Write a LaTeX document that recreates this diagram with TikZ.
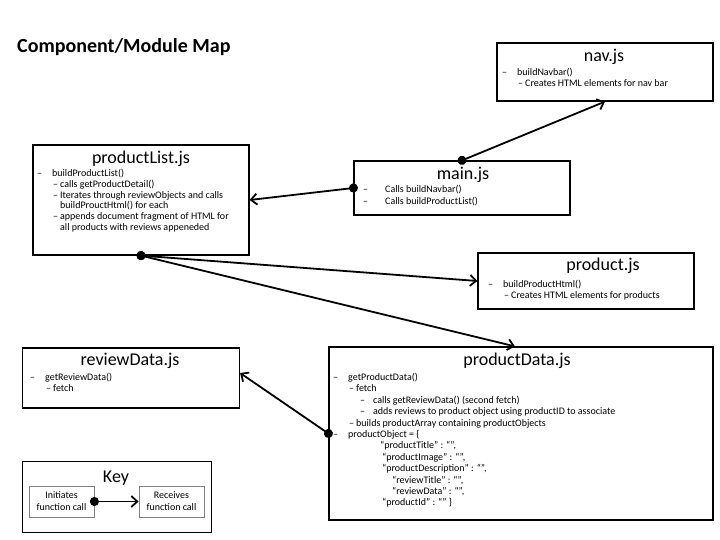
\documentclass[tikz,border=0pt]{standalone}
\usepackage{fontspec}
\setmainfont{Carlito}
\usetikzlibrary{arrows.meta,positioning}

% bullet levels for the box texts
\newcommand{\ia}{\makebox[15pt][l]{--}}
\newcommand{\ib}{\hspace*{16pt}\makebox[7pt][l]{--}}
\newcommand{\ic}{\hspace*{23pt}}

\tikzset{
  modbox/.style={draw, line width=1.2pt, inner sep=0pt},
  modname/.style={font=\fontsize{18}{20}\selectfont, inner sep=0pt},
  modtext/.style={font=\fontsize{10}{11.2}\selectfont, align=left, inner sep=0pt, anchor=north west},
  keybox/.style={draw=gray, line width=0.8pt, minimum width=65pt, minimum height=31pt,
    align=center, font=\fontsize{10}{12}\selectfont, inner sep=0pt},
  calls/.style={line width=1.8pt, {Circle[length=9pt]}-{Straight Barb[length=6pt,width=11pt]},
    shorten <=-4.5pt},
}

\begin{document}
\begin{tikzpicture}[x=1pt,y=-1pt]
\useasboundingbox (0,0) rectangle (720,540);

% Title
\node[anchor=west, inner sep=0pt, font=\fontsize{20}{22}\selectfont\bfseries] (title) at (17,47) {Component/Module Map};

% Modules
\node[modbox, minimum width=216pt, minimum height=58pt] (nav) at (605,72) {};
\node[modname] (navname) at (604,57) {nav.js};
\node[modtext] (navtext) at (502,68) {\ia buildNavbar()\\ \ib Creates HTML elements for nav bar};

\node[modbox, minimum width=216pt, minimum height=54pt] (mainjs) at (462,188) {};
\node[modname] (mainname) at (463,175) {main.js};
\node[modtext, font=\fontsize{10}{12}\selectfont] (maintext) at (363,185) {\makebox[22pt][l]{--}Calls buildNavbar()\\ \makebox[22pt][l]{--}Calls buildProductList()};

\node[modbox, minimum width=216pt, minimum height=110pt] (plist) at (141,200) {};
\node[modname] (plistname) at (141,159) {productList.js};
\node[modtext, font=\fontsize{10}{10.8}\selectfont] (plisttext) at (37,169) {\ia buildProductList()\\
  \ib calls getProductDetail()\\
  \ib Iterates through reviewObjects and calls\\
  \ic buildProuctHtml() for each\\
  \ib appends document fragment of HTML for\\
  \ic all products with reviews appeneded};

\node[modbox, minimum width=216pt, minimum height=56pt] (prod) at (586,281) {};
\node[modname] (prodname) at (603,266) {product.js};
\node[modtext] (prodtext) at (488,280) {\ia buildProductHtml()\\ \ib Creates HTML elements for products};

\node[modbox, minimum width=217pt, minimum height=60pt] (rdata) at (131,378) {};
\node[modname] (rdataname) at (130,361) {reviewData.js};
\node[modtext] (rdatatext) at (30,373) {\ia getReviewData()\\ \ib fetch};

\node[modbox, minimum width=384pt, minimum height=173pt] (pdata) at (521,433.5) {};
\node[modname] (pdataname) at (517,361) {productData.js};
\node[modtext, font=\fontsize{10}{11.4}\selectfont] (pdatatext) at (333,373) {\ia getProductData()\\
  \ib fetch\\
  \hspace*{27pt}\makebox[13pt][l]{--}calls getReviewData() (second fetch)\\
  \hspace*{27pt}\makebox[13pt][l]{--}adds reviews to product object using productID to associate\\
  \ib builds productArray containing productObjects\\
  \ia productObject = \{\\
  \hspace*{47pt}“productTitle” : “”,\\
  \hspace*{49pt}“productImage” : “”,\\
  \hspace*{49pt}“productDescription” : “”,\\
  \hspace*{59pt}“reviewTitle” : “”,\\
  \hspace*{59pt}“reviewData” : “”,\\
  \hspace*{49pt}“productId” : “” \}};

% Calls
\draw[calls] (mainjs.north) -- (nav.south);
\draw[calls] (mainjs.west) -- (plist.east);
\draw[calls] (plist.south) -- (prod.west);
\draw[calls] (plist.south) -- ([xshift=-6pt]pdata.north);
\draw[calls] (pdata.west) -- ([yshift=5pt]rdata.east);

% Key
\node[draw, line width=1pt, minimum width=189pt, minimum height=71pt, inner sep=0pt] (key) at (116.5,496.5) {};
\node[modname] (keyname) at (116,478) {Key};
\node[keybox] (init) at (61.5,501.5) {Initiates\\ function call};
\node[keybox] (recv) at (171.5,501.5) {Receives\\ function call};
\draw[calls] (init.east) -- (recv.west);

\end{tikzpicture}
\end{document}
